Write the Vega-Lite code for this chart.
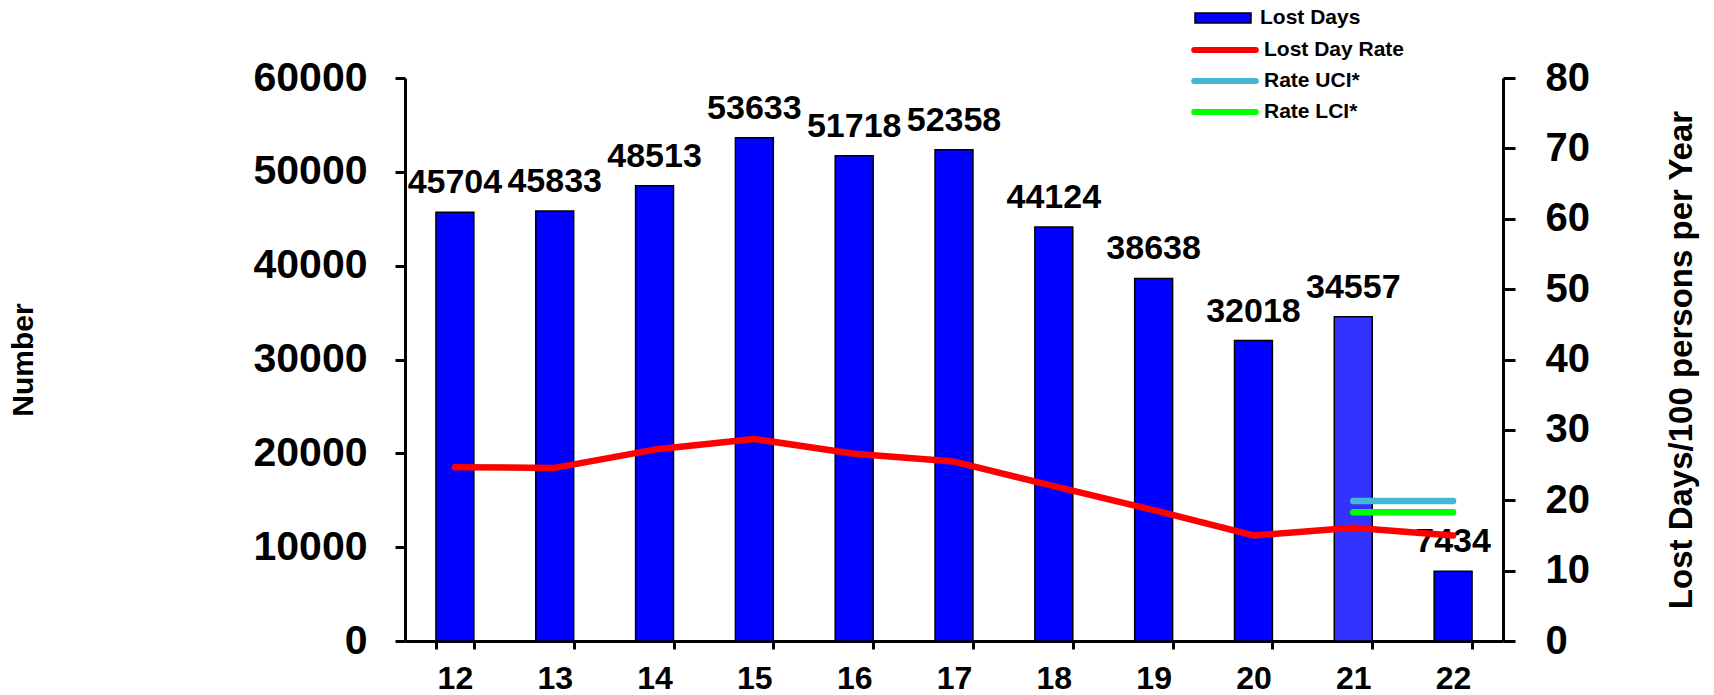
{
  "$schema": "https://vega.github.io/schema/vega-lite/v6.json",
  "width": 1098,
  "height": 563,
  "autosize": {"type": "none"},
  "padding": {"left": 405, "top": 78, "right": 211, "bottom": 54},
  "background": "white",
  "config": {
    "view": {"stroke": null},
    "font": "Liberation Sans",
    "axis": {
      "grid": false,
      "domainColor": "black",
      "domainWidth": 3,
      "tickColor": "black",
      "tickWidth": 3,
      "labelFont": "Liberation Sans",
      "labelFontWeight": "bold",
      "labelColor": "black",
      "titleFont": "Liberation Sans",
      "titleFontWeight": "bold",
      "titleColor": "black"
    },
    "legend": {
      "labelFont": "Liberation Sans",
      "labelFontWeight": "bold",
      "labelColor": "black"
    }
  },
  "datasets": {
    "bars": [
      {"year": "12", "days": 45704},
      {"year": "13", "days": 45833},
      {"year": "14", "days": 48513},
      {"year": "15", "days": 53633},
      {"year": "16", "days": 51718},
      {"year": "17", "days": 52358},
      {"year": "18", "days": 44124},
      {"year": "19", "days": 38638},
      {"year": "20", "days": 32018},
      {"year": "21", "days": 34557},
      {"year": "22", "days": 7434}
    ],
    "lines": [
      {"year": "12", "series": "Lost Day Rate", "value": 24.7},
      {"year": "13", "series": "Lost Day Rate", "value": 24.6},
      {"year": "14", "series": "Lost Day Rate", "value": 27.2},
      {"year": "15", "series": "Lost Day Rate", "value": 28.7},
      {"year": "16", "series": "Lost Day Rate", "value": 26.6},
      {"year": "17", "series": "Lost Day Rate", "value": 25.5},
      {"year": "18", "series": "Lost Day Rate", "value": 22.0},
      {"year": "19", "series": "Lost Day Rate", "value": 18.6},
      {"year": "20", "series": "Lost Day Rate", "value": 15.0},
      {"year": "21", "series": "Lost Day Rate", "value": 16.1},
      {"year": "22", "series": "Lost Day Rate", "value": 15.0},
      {"year": "21", "series": "Rate UCI*", "value": 19.9},
      {"year": "22", "series": "Rate UCI*", "value": 19.9},
      {"year": "21", "series": "Rate LCI*", "value": 18.3},
      {"year": "22", "series": "Rate LCI*", "value": 18.3}
    ]
  },
  "layer": [
    {
      "data": {"name": "bars"},
      "layer": [
        {
          "mark": {"type": "bar", "stroke": "black", "strokeWidth": 1.5},
          "encoding": {
            "x": {
              "field": "year",
              "type": "ordinal",
              "scale": {"paddingInner": 0.62, "paddingOuter": 0.31},
              "axis": {
                "title": null,
                "labelAngle": 0,
                "labelFontSize": 32,
                "tickSize": 8,
                "labelPadding": 14,
                "tickBand": "extent"
              }
            },
            "y": {
              "field": "days",
              "type": "quantitative",
              "scale": {"domain": [0, 60000]},
              "axis": {
                "orient": "left",
                "values": [0, 10000, 20000, 30000, 40000, 50000, 60000],
                "format": "d",
                "labelFontSize": 41,
                "tickSize": 10,
                "labelPadding": 28,
                "title": "Number",
                "titleFontSize": 30,
                "titleAngle": -90,
                "titleX": -382,
                "titleY": 281.5,
                "titleAlign": "center",
                "titleBaseline": "middle"
              }
            },
            "fill": {
              "datum": "Lost Days",
              "type": "nominal",
              "scale": {"domain": ["Lost Days"], "range": ["#0000FF"]},
              "condition": {"test": "datum.year === '21'", "value": "#3333FF"},
              "legend": {
                "title": null,
                "orient": "none",
                "legendX": 803,
                "legendY": -75,
                "padding": 0,
                "symbolType": "M-2,-0.36L2,-0.36L2,0.36L-2,0.36Z",
                "symbolSize": 784,
                "symbolStrokeColor": "black",
                "symbolStrokeWidth": 1.5,
                "labelFontSize": 21,
                "labelOffset": 22
              }
            }
          }
        },
        {
          "mark": {"type": "text", "font": "Liberation Sans", "fontWeight": "bold", "fontSize": 34, "baseline": "alphabetic", "dy": -19, "color": "black"},
          "encoding": {
            "x": {"field": "year", "type": "ordinal"},
            "y": {"field": "days", "type": "quantitative"},
            "text": {"field": "days", "type": "quantitative", "format": "d"}
          }
        }
      ]
    },
    {
      "data": {"name": "lines"},
      "mark": {"type": "line", "strokeWidth": 6.5, "strokeCap": "round", "strokeJoin": "round"},
      "encoding": {
        "x": {"field": "year", "type": "ordinal"},
        "y": {
          "field": "value",
          "type": "quantitative",
          "scale": {"domain": [0, 80]},
          "axis": {
            "orient": "right",
            "values": [0, 10, 20, 30, 40, 50, 60, 70, 80],
            "labelFontSize": 40,
            "tickSize": 12,
            "labelPadding": 30,
            "title": "Lost Days/100 persons per Year",
            "titleFontSize": 33,
            "titleAngle": -90,
            "titleX": 178,
            "titleY": 281.5,
            "titleAlign": "center",
            "titleBaseline": "middle"
          }
        },
        "stroke": {
          "field": "series",
          "type": "nominal",
          "scale": {
            "domain": ["Lost Day Rate", "Rate UCI*", "Rate LCI*"],
            "range": ["#FF0000", "#44B8D2", "#00FF00"]
          },
          "legend": {
            "title": null,
            "orient": "none",
            "legendX": 803,
            "legendY": -45,
            "padding": 0,
            "symbolType": "M-2.2,0L2.2,0",
            "symbolSize": 784,
            "symbolStrokeWidth": 6,
            "labelFontSize": 21,
            "labelOffset": 22,
            "rowPadding": 2,
            "encode": {"symbols": {"update": {"strokeCap": {"value": "round"}}}}
          }
        }
      }
    }
  ],
  "resolve": {"scale": {"y": "independent"}}
}
